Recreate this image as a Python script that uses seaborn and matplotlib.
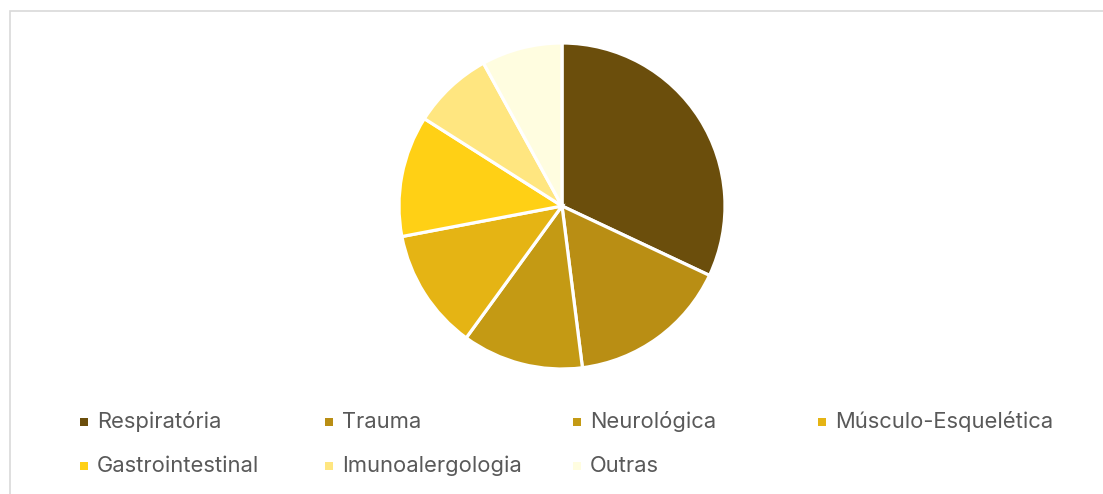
import matplotlib
matplotlib.use("Agg")
import matplotlib.pyplot as plt
import seaborn as sns
from matplotlib.patches import Rectangle

categories = ["Respiratória", "Trauma", "Neurológica", "Músculo-Esquelética",
              "Gastrointestinal", "Imunoalergologia", "Outras"]
values = [32, 16, 12, 12, 12, 8, 8]
colors = ["#6B4E0C", "#B98E14", "#C49A14", "#E5B414", "#FFD015", "#FFE680", "#FFFDE0"]

sns.set_theme(style="white")
plt.rcParams['font.family'] = ['Inter', 'DejaVu Sans']

W, H = 1103, 494
fig = plt.figure(figsize=(W / 100, H / 100), dpi=100)
fig.patch.set_facecolor("white")

# chart border
fig.add_artist(Rectangle((9.5 / W, -0.1), 1.2, 1 - 11.5 / H + 0.1, transform=fig.transFigure,
                         fill=False, edgecolor="#D9D9D9", linewidth=1.2))

cx, cy, r = 562, 206, 163
ax = fig.add_axes([(cx - r) / W, 1 - (cy + r) / H, 2 * r / W, 2 * r / H])
ax.pie(values, colors=colors, startangle=90, counterclock=False, radius=1,
       wedgeprops=dict(edgecolor="white", linewidth=2.3))
ax.set_xlim(-1, 1)
ax.set_ylim(-1, 1)
ax.set_aspect("auto")
ax.axis("off")

# legend
col_x = [84, 329, 577, 822]
row_y = [422, 466]
sq = 8
for i, (cat, col) in enumerate(zip(categories, colors)):
    rr, cc = divmod(i, 4)
    x, y = col_x[cc], row_y[rr]
    fig.add_artist(Rectangle(((x - sq / 2) / W, 1 - (y + sq / 2) / H), sq / W, sq / H,
                             transform=fig.transFigure, facecolor=col, edgecolor="none"))
    fig.text((x + 13) / W, 1 - y / H, cat, ha="left", va="center",
             fontsize=15.8, color="#595959")

fig.savefig("out.png", dpi=100, facecolor="white")
